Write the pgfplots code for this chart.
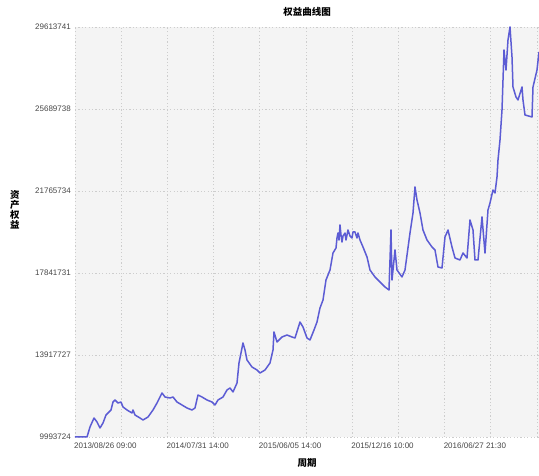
\documentclass[border=0pt]{standalone}
\usepackage{pgfplots}
\pgfplotsset{compat=1.18}
\usepackage{fontspec}
\setmainfont{Liberation Sans}
\newfontfamily\cjk{Noto Sans CJK SC}
\definecolor{linec}{RGB}{92,92,212}
\definecolor{bgc}{RGB}{244,244,244}
\definecolor{gridc}{RGB}{205,205,205}
\definecolor{tickc}{RGB}{70,70,70}
\begin{document}
\begin{tikzpicture}
\begin{axis}[
  name=ax,
  scale only axis, width=464pt, height=410pt,
  xmin=75, xmax=539, ymin=9993724, ymax=29613741,
  scaled y ticks=false, scaled x ticks=false,
  axis background/.style={fill=bgc},
  axis line style={draw=none},
  major tick length=0pt, minor tick length=0pt,
  xtick={75,167.4,259.8,352.2,444.6},
  xticklabels={2013/08/26 09:00,2014/07/31 14:00,2015/06/05 14:00,2015/12/16 10:00,2016/06/27 21:30},
  minor xtick={121.2,213.6,306,398.4,490.8,537},
  ytick={9993724,13917727,17841731,21765734,25689738,29613741},
  yticklabels={9993724,13917727,17841731,21765734,25689738,29613741},
  grid=both,
  major grid style={gridc, dash pattern=on 1.2pt off 2.2pt, line width=0.7pt},
  minor grid style={gridc, dash pattern=on 1.2pt off 2.2pt, line width=0.7pt},
  x tick label style={anchor=north west, font=\fontsize{8}{9}\selectfont, text=tickc, inner sep=0pt, yshift=-6pt, xshift=-1pt},
  y tick label style={anchor=east, font=\fontsize{8}{9}\selectfont, text=tickc, inner sep=0pt, xshift=-4pt},
  clip=false,
]
\addplot[linec, line width=1.5pt, line join=round] coordinates {
(75,9993724) (87,9993724) (90,10472264) (94,10902950) (97,10711534) (100,10424410)
(103,10663680) (106,11046512) (108,11142220) (111,11285782) (113,11668614) (115,11764322)
(118,11620760) (121,11668614) (123,11429344) (127,11285782) (132,11142220) (133,11285782)
(135,11046512) (140,10902950) (143,10807242) (148,10950804) (153,11285782) (157,11620760)
(162,12099300) (165,11907884) (170,11860030) (173,11907884) (177,11668614) (182,11525052)
(187,11381490) (192,11285782) (195,11381490) (198,12003592) (202,11907884) (207,11764322)
(212,11668614) (215,11525052) (218,11764322) (223,11907884) (227,12242862) (230,12338570)
(233,12147154) (237,12577840) (239,13534920) (243,14492000) (245,14157022) (247,13678482)
(252,13343504) (257,13199942) (260,13056380) (265,13199942) (270,13534920) (273,14157022)
(274,15018394) (277,14539854) (282,14779124) (287,14874832) (292,14779124) (295,14731270)
(300,15496934) (303,15257664) (307,14731270) (310,14635562) (314,15114102) (317,15496934)
(320,16166890) (323,16549722) (326,17506802) (330,17985342) (333,18798860) (336,19038130)
(337,19516670) (338,19755940) (339,19420962) (340,20138772) (341,19660232) (342,19325254)
(343,19612378) (345,19755940) (346,19420962) (348,19899502) (350,19612378) (352,19516670)
(353,19803794) (355,19803794) (357,19516670) (358,19755940) (360,19420962)
(363,19085984) (367,18607444) (370,17985342)
(375,17650364) (380,17411094) (385,17171824) (389,17028262) (391,19899502) (392,17506802)
(395,18942422) (397,17985342) (402,17650364) (405,17985342) (410,19755940) (413,20713020)
(415,21957224) (417,21335122) (420,20713020) (423,19899502) (427,19420962) (432,19085984)
(435,18942422) (438,18128904) (442,18081050) (445,19564524) (448,19899502) (452,19085984)
(455,18559590) (460,18463882) (463,18798860) (467,18559590) (470,20378042) (473,19899502)
(475,18463882) (478,18463882) (482,20521604) (485,18798860) (488,20856582) (490,21191560)
(493,21813662) (495,21670100) (497,22435764) (498,23249282) (500,24206362) (502,25641982)
(504,28513222) (505,28034682) (506,27556142) (508,28991762) (510,29613741) (512,28178244) (513,26742624)
(516,26264084) (518,26120522) (522,26742624) (523,26120522) (525,25402712) (532,25307004)
(533,26742624) (537,27556142) (539,28417514)
};
\end{axis}
\node[font=\cjk\bfseries\fontsize{9.5}{10}\selectfont] at ([yshift=15pt]ax.north) {权益曲线图};
\node[font=\cjk\bfseries\fontsize{9.5}{10}\selectfont] at ([yshift=-26pt]ax.south) {周期};
\node[font=\cjk\bfseries\fontsize{9.5}{10}\selectfont, inner sep=0pt] at ([xshift=-60pt,yshift=37pt]ax.west) {资};
\node[font=\cjk\bfseries\fontsize{9.5}{10}\selectfont, inner sep=0pt] at ([xshift=-60pt,yshift=27pt]ax.west) {产};
\node[font=\cjk\bfseries\fontsize{9.5}{10}\selectfont, inner sep=0pt] at ([xshift=-60pt,yshift=17pt]ax.west) {权};
\node[font=\cjk\bfseries\fontsize{9.5}{10}\selectfont, inner sep=0pt] at ([xshift=-60pt,yshift=7pt]ax.west) {益};
\pgfresetboundingbox
\path ([xshift=-75pt,yshift=-39pt]ax.south west) rectangle ([yshift=27pt]ax.north east);
\end{tikzpicture}
\end{document}
